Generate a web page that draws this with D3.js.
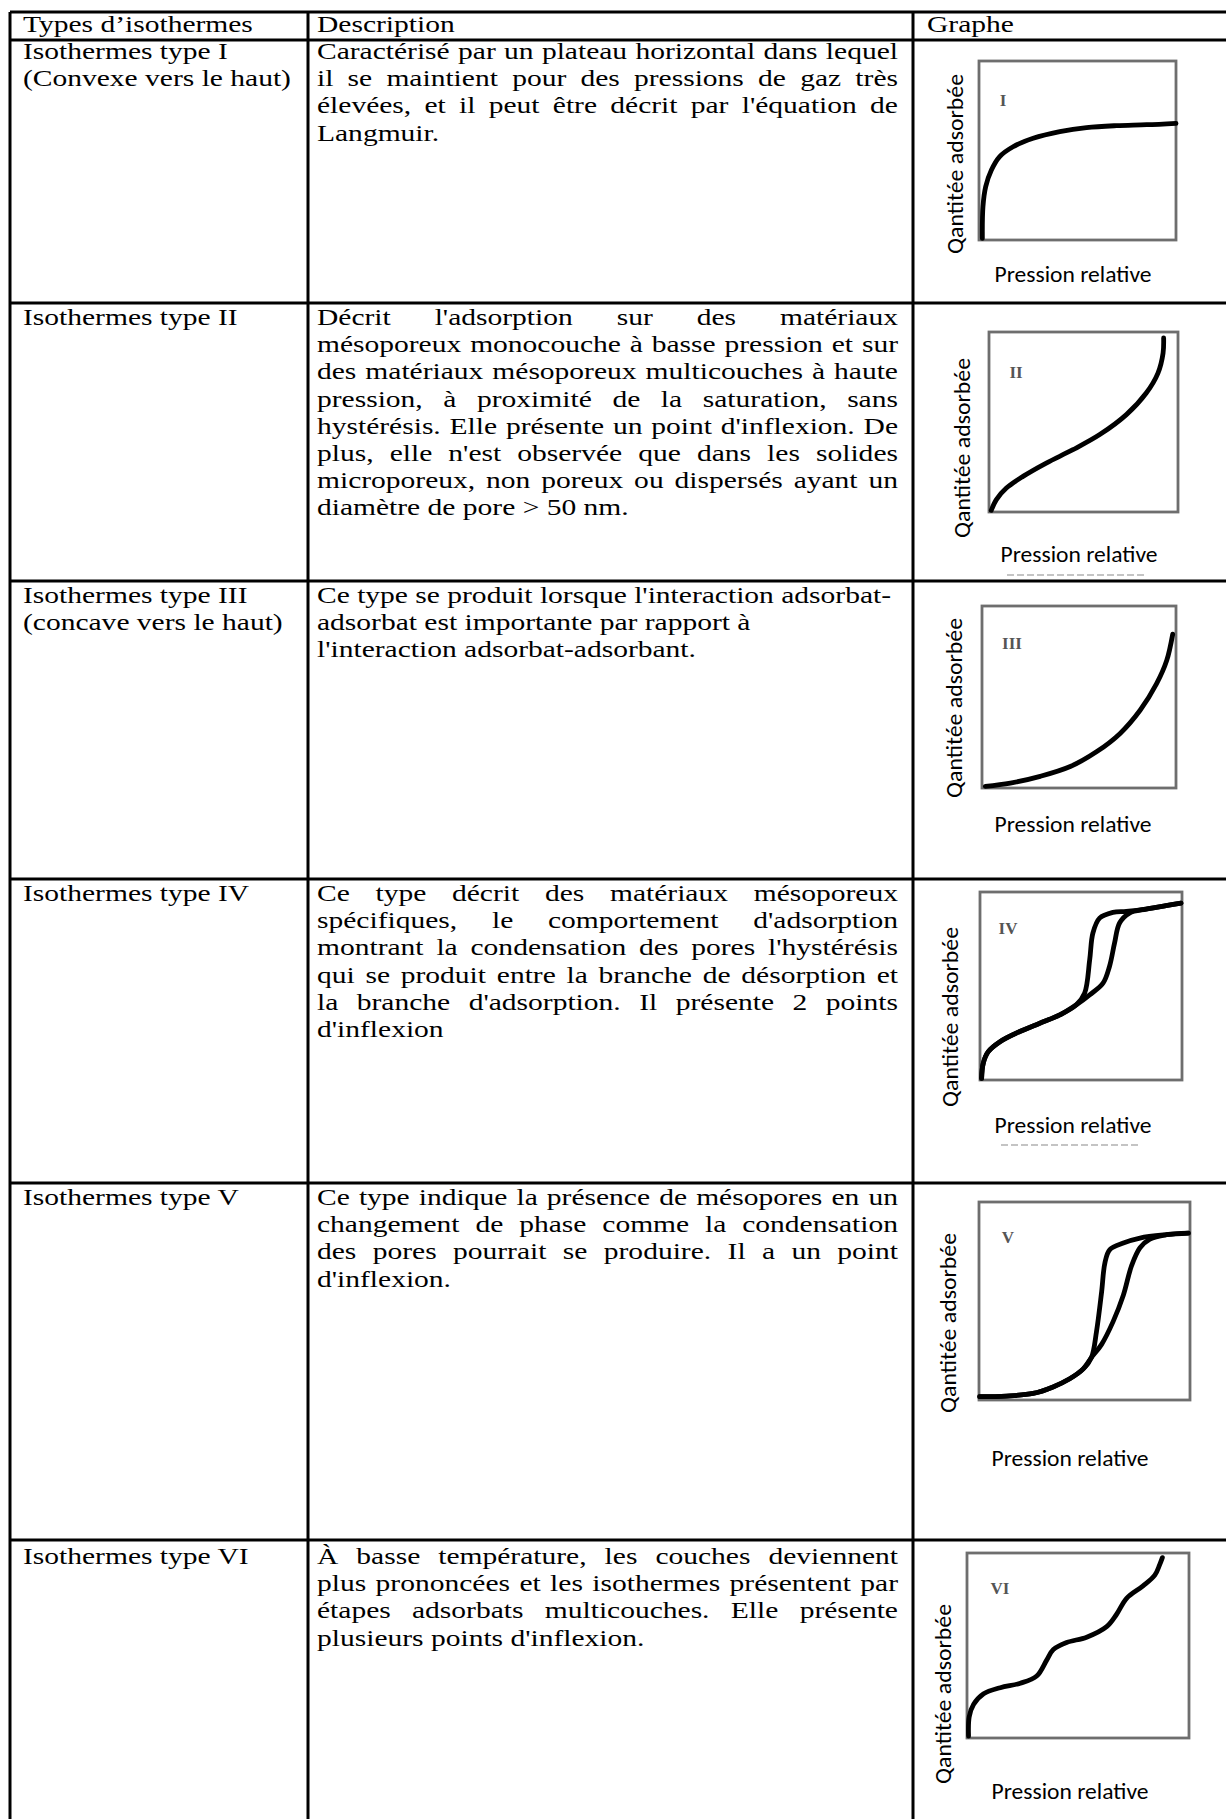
<!DOCTYPE html>
<html>
<head>
<meta charset="utf-8">
<script src="https://cdn.jsdelivr.net/npm/d3@7"></script>
<style>
  body { margin: 0; background: #fff; }
  svg { display: block; }
</style>
</head>
<body>
<script>
// Table content
var headers = ["Types d’isothermes", "Description", "Graphe"];

var typeLabels = [
    ["Isothermes type I", "(Convexe vers le haut)"],
    ["Isothermes type II"],
    ["Isothermes type III", "(concave vers le haut)"],
    ["Isothermes type IV"],
    ["Isothermes type V"],
    ["Isothermes type VI"]
];

var descriptions = [
    ["Caractérisé par un plateau horizontal dans lequel",
     "il se maintient pour des pressions de gaz très",
     "élevées, et il peut être décrit par l'équation de",
     "Langmuir."],
    ["Décrit l'adsorption sur des matériaux",
     "mésoporeux monocouche à basse pression et sur",
     "des matériaux mésoporeux multicouches à haute",
     "pression, à proximité de la saturation, sans",
     "hystérésis. Elle présente un point d'inflexion. De",
     "plus, elle n'est observée que dans les solides",
     "microporeux, non poreux ou dispersés ayant un",
     "diamètre de pore > 50 nm."],
    ["Ce type se produit lorsque l'interaction adsorbat-",
     "adsorbat est importante par rapport à",
     "l'interaction adsorbat-adsorbant."],
    ["Ce type décrit des matériaux mésoporeux",
     "spécifiques, le comportement d'adsorption",
     "montrant la condensation des pores l'hystérésis",
     "qui se produit entre la branche de désorption et",
     "la branche d'adsorption. Il présente 2 points",
     "d'inflexion"],
    ["Ce type indique la présence de mésopores en un",
     "changement de phase comme la condensation",
     "des pores pourrait se produire. Il a un point",
     "d'inflexion."],
    ["À basse température, les couches deviennent",
     "plus prononcées et les isothermes présentent par",
     "étapes adsorbats multicouches. Elle présente",
     "plusieurs points d'inflexion."]
];

var justified = [true, true, false, true, true, true];

var romanNumerals = ["I", "II", "III", "IV", "V", "VI"];
var xAxisLabel = "Pression relative";
var yAxisLabel = "Qantitée adsorbée";

// Curves, [relative pressure, amount adsorbed] in 0..1 of each frame
var curveI = [[0.017, 0.009], [0.02, 0.186], [0.034, 0.298], [0.063, 0.391], [0.105, 0.466],
    [0.173, 0.521], [0.275, 0.568], [0.41, 0.605], [0.546, 0.628], [0.698, 0.639],
    [0.851, 0.644], [1.0, 0.652]];

var curveII = [[0.012, 0.009], [0.039, 0.069], [0.092, 0.133], [0.18, 0.198], [0.303, 0.272],
    [0.444, 0.346], [0.586, 0.43], [0.727, 0.541], [0.832, 0.661], [0.894, 0.772],
    [0.921, 0.883], [0.924, 0.967]];

var curveIII = [[0.017, 0.009], [0.146, 0.027], [0.3, 0.064], [0.455, 0.118], [0.592, 0.2],
    [0.712, 0.3], [0.815, 0.427], [0.9, 0.573], [0.952, 0.7], [0.983, 0.845]];

var curveIVAdsorption = [[0.008, 0.009], [0.016, 0.089], [0.041, 0.151], [0.099, 0.204],
    [0.197, 0.258], [0.296, 0.302], [0.395, 0.346], [0.477, 0.4],
    [0.543, 0.453], [0.609, 0.515], [0.641, 0.604], [0.666, 0.728], [0.691, 0.835],
    [0.74, 0.888], [0.822, 0.909], [0.921, 0.927], [0.995, 0.941]];

var curveIVDesorption = [[0.008, 0.009], [0.016, 0.089], [0.041, 0.151], [0.099, 0.204],
    [0.197, 0.258], [0.296, 0.302], [0.395, 0.346], [0.477, 0.4],
    [0.518, 0.462], [0.543, 0.639], [0.559, 0.782], [0.592, 0.861], [0.658, 0.892],
    [0.724, 0.897], [0.822, 0.909], [0.921, 0.927], [0.995, 0.941]];

var curveVAdsorption = [[0.003, 0.017], [0.13, 0.02], [0.256, 0.033], [0.351, 0.066],
    [0.43, 0.107], [0.494, 0.157], [0.533, 0.215],
    [0.581, 0.281], [0.636, 0.397], [0.684, 0.529], [0.723, 0.678], [0.763, 0.769],
    [0.81, 0.813], [0.889, 0.835], [0.992, 0.843]];

var curveVDesorption = [[0.003, 0.017], [0.13, 0.02], [0.256, 0.033], [0.351, 0.066],
    [0.43, 0.107], [0.494, 0.157], [0.533, 0.215],
    [0.557, 0.347], [0.581, 0.545], [0.597, 0.694], [0.62, 0.76], [0.684, 0.793],
    [0.763, 0.818], [0.889, 0.835], [0.992, 0.843]];

var curveVI = [[0.007, 0.01], [0.01, 0.115], [0.03, 0.182], [0.075, 0.239], [0.15, 0.272],
    [0.24, 0.296], [0.314, 0.335], [0.359, 0.421], [0.389, 0.478], [0.449, 0.516],
    [0.539, 0.545], [0.629, 0.602], [0.674, 0.669], [0.719, 0.755], [0.793, 0.822],
    [0.846, 0.88], [0.868, 0.937], [0.88, 0.975]];

var curves = [
    [curveI],
    [curveII],
    [curveIII],
    [curveIVAdsorption, curveIVDesorption],
    [curveVAdsorption, curveVDesorption],
    [curveVI]
];

// Layout
var width = 1226, height = 1819;
var SERIF = "'Liberation Serif', 'Times New Roman', serif";
var SANS = "Carlito, Lato, 'Open Sans', sans-serif";
var FS = 24, SX = 1.23, LH = 27.2;
var colX = [10, 308, 913];
var rowY = [12, 40, 303, 581, 879, 1183, 1540];
var headerBase = 32;
var rowPad = [19, 22, 22, 22, 22, 24];
var textX = [23, 317, 927];
var textRight = 898;

// graph frames: [left, top, right, bottom], label positions
var frames = [
    { box: [979, 61, 1176, 240], num: [1003, 100], yl: [955, 164], xl: [1073, 282] },
    { box: [989, 332, 1178, 512], num: [1016, 372], yl: [962, 448], xl: [1079, 562], smudge: 575 },
    { box: [982, 606, 1176, 788], num: [1012, 643], yl: [954, 708], xl: [1073, 832] },
    { box: [980, 892, 1182, 1080], num: [1008, 928], yl: [950, 1017], xl: [1073, 1133], smudge: 1145 },
    { box: [979, 1202, 1190, 1400], num: [1008, 1237], yl: [948, 1323], xl: [1070, 1466] },
    { box: [967, 1553, 1189, 1738], num: [1000, 1588], yl: [943, 1694], xl: [1070, 1799] }
];

var svg = d3.select("body").append("svg")
    .attr("width", width)
    .attr("height", height);

var measurer = svg.append("text")
    .attr("font-family", SERIF)
    .attr("font-size", FS)
    .attr("visibility", "hidden");

function wordWidth(w) {
    measurer.text(w);
    return measurer.node().getComputedTextLength();
}

function drawLine(x, y, str, lineWidth, justify) {
    var t = svg.append("text")
        .attr("font-family", SERIF)
        .attr("font-size", FS)
        .attr("fill", "#000")
        .attr("transform", "translate(" + x + "," + y + ") scale(" + SX + ",1)");
    var words = str.split(" ");
    if (!justify || words.length < 2) {
        t.text(str);
        return;
    }
    var ws = words.map(wordWidth);
    var gap = (lineWidth / SX - d3.sum(ws)) / (words.length - 1);
    var cx = 0;
    words.forEach(function (w, i) {
        t.append("tspan").attr("x", cx).text(w);
        cx += ws[i] + gap;
    });
}

// header
headers.forEach(function (h, i) {
    drawLine(textX[i], headerBase, h, 0, false);
});

// rows
typeLabels.forEach(function (lines, r) {
    var top = rowY[r + 1];
    lines.forEach(function (l, i) {
        drawLine(textX[0], top + rowPad[r] + i * LH, l, 0, false);
    });
    var desc = descriptions[r];
    desc.forEach(function (l, i) {
        var last = i === desc.length - 1;
        drawLine(textX[1], top + rowPad[r] + i * LH, l, textRight - textX[1], justified[r] && !last);
    });
});

// graphs
var line = d3.line().curve(d3.curveCatmullRom.alpha(0.5));

frames.forEach(function (f, r) {
    var x = d3.scaleLinear().domain([0, 1]).range([f.box[0], f.box[2]]);
    var y = d3.scaleLinear().domain([0, 1]).range([f.box[3], f.box[1]]);
    var g = svg.append("g").attr("class", "graph");

    g.append("rect")
        .attr("x", f.box[0]).attr("y", f.box[1])
        .attr("width", f.box[2] - f.box[0]).attr("height", f.box[3] - f.box[1])
        .attr("fill", "#fff")
        .attr("stroke", "#6e6e6e")
        .attr("stroke-width", 2.8);

    g.selectAll("path.curve")
        .data(curves[r])
        .enter().append("path")
        .attr("class", "curve")
        .attr("d", function (d) { return line(d.map(function (p) { return [x(p[0]), y(p[1])]; })); })
        .attr("fill", "none")
        .attr("stroke", "#000")
        .attr("stroke-width", 4.8)
        .attr("stroke-linecap", "round");

    g.append("text")
        .attr("x", f.num[0]).attr("y", f.num[1] + 6)
        .attr("text-anchor", "middle")
        .attr("font-family", SERIF)
        .attr("font-weight", "bold")
        .attr("font-size", 17)
        .attr("fill", "#555")
        .text(romanNumerals[r]);

    g.append("text")
        .attr("transform", "translate(" + f.yl[0] + "," + f.yl[1] + ") rotate(-90)")
        .attr("text-anchor", "middle")
        .attr("dy", "0.35em")
        .attr("font-family", SANS)
        .attr("font-size", 22)
        .attr("textLength", 180)
        .attr("lengthAdjust", "spacingAndGlyphs")
        .attr("fill", "#000")
        .text(yAxisLabel);

    g.append("text")
        .attr("x", f.xl[0]).attr("y", f.xl[1])
        .attr("text-anchor", "middle")
        .attr("font-family", SANS)
        .attr("font-size", 22)
        .attr("textLength", 157)
        .attr("lengthAdjust", "spacingAndGlyphs")
        .attr("fill", "#000")
        .text(xAxisLabel);

    if (f.smudge) {
        g.append("line")
            .attr("x1", f.xl[0] - 72).attr("x2", f.xl[0] + 68)
            .attr("y1", f.smudge).attr("y2", f.smudge)
            .attr("stroke", "#c4c4c4")
            .attr("stroke-width", 2)
            .attr("stroke-dasharray", "7,3");
    }
});

// table rules
var grid = svg.append("g").attr("stroke", "#000").attr("stroke-width", 3);
rowY.forEach(function (yy) {
    grid.append("line").attr("x1", colX[0]).attr("x2", width + 5).attr("y1", yy).attr("y2", yy);
});
colX.forEach(function (xx) {
    grid.append("line").attr("x1", xx).attr("x2", xx).attr("y1", rowY[0]).attr("y2", height + 5);
});
</script>
</body>
</html>
